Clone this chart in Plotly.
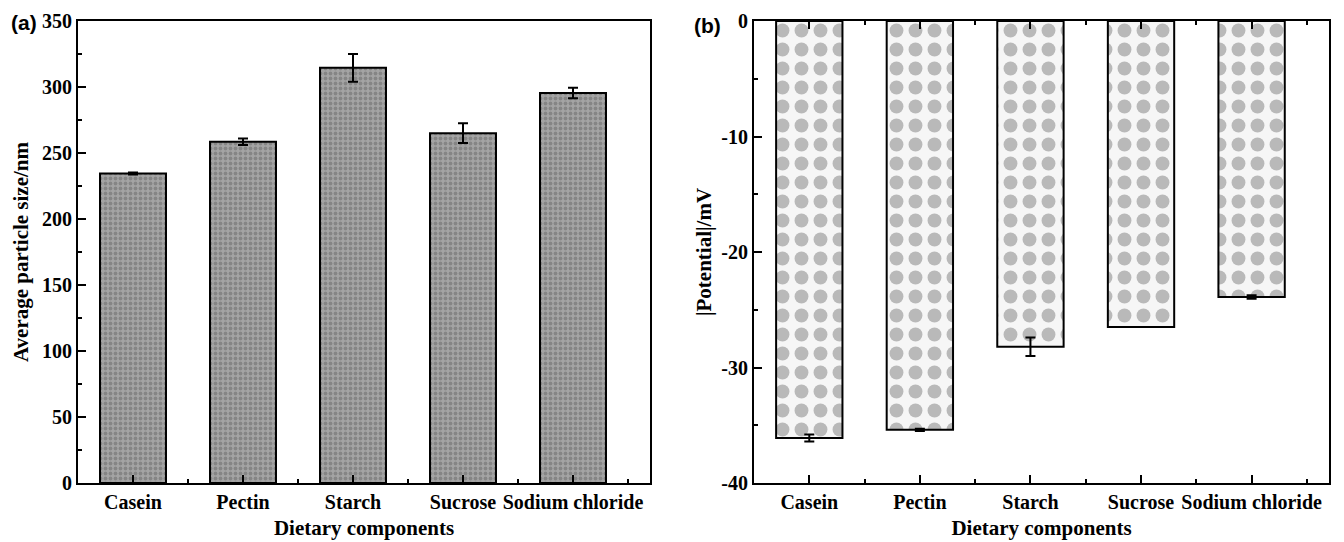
import plotly.graph_objects as go

categories = ["Casein", "Pectin", "Starch", "Sucrose", "Sodium chloride"]
particle_size = [234.5, 258.5, 314.5, 265.0, 295.5]
particle_size_err = [0.8, 2.5, 10.5, 7.5, 4.0]
potential = [-36.1, -35.4, -28.2, -26.5, -23.9]
potential_err = [0.3, 0.1, 0.8, 0.0, 0.15]
size_ticks = [0, 50, 100, 150, 200, 250, 300, 350]
potential_ticks = [-40, -30, -20, -10, 0]

W, H = 1344, 542
pos = list(range(len(categories)))
minor_pos = [p + 0.5 for p in pos]

TICKFONT = dict(family="Liberation Serif", size=20, color="black", weight="bold")
TITLEFONT = dict(family="Liberation Serif", size=21, color="black", weight="bold")

fig = go.Figure()

fig.add_trace(go.Bar(
    x=pos, y=particle_size, width=0.6,
    marker=dict(color="#8e8e8e", line=dict(color="black", width=2),
                pattern=dict(shape=".", size=5, solidity=0.45,
                             fgcolor="#666666", bgcolor="#a4a4a4")),
    error_y=dict(type="data", array=particle_size_err, color="black",
                 thickness=2, width=5),
    xaxis="x", yaxis="y", showlegend=False,
))

fig.add_trace(go.Bar(
    x=pos, y=potential, width=0.6,
    marker=dict(color="#d0d0d0", line=dict(color="black", width=2),
                pattern=dict(shape=".", size=19, solidity=0.42,
                             fgcolor="#7c7c7c", bgcolor="#f6f6f6")),
    error_y=dict(type="data", array=potential_err, color="black",
                 thickness=2, width=5),
    xaxis="x2", yaxis="y2", showlegend=False,
))

ydom = [1 - 483 / H, 1 - 21 / H]

def xaxis_cfg(domain, mirror):
    return dict(
        domain=domain, type="linear", range=[-0.5, 4.7],
        tickmode="array", tickvals=pos, ticktext=categories,
        ticks="inside", ticklen=8, tickwidth=2, tickcolor="black",
        showline=True, linewidth=2, linecolor="black", mirror=mirror,
        showgrid=False, zeroline=False, tickfont=TICKFONT,
        minor=dict(tickmode="array", tickvals=minor_pos, ticks="inside",
                   ticklen=4, tickwidth=2, tickcolor="black", showgrid=False),
        title=dict(text="Dietary components", font=TITLEFONT, standoff=8),
    )

xa = xaxis_cfg([78 / W, 650 / W], True)
xa["anchor"] = "y"
xb = xaxis_cfg([754 / W, 1329 / W], "ticks")
xb["anchor"] = "y2"

ya = dict(
    domain=ydom, anchor="x", range=[0, 350], tickmode="array",
    tickvals=size_ticks, ticktext=[str(v) for v in size_ticks],
    ticks="inside", ticklen=8, tickwidth=2, tickcolor="black",
    showline=True, linewidth=2, linecolor="black", mirror=True,
    showgrid=False, zeroline=False, tickfont=TICKFONT,
    minor=dict(dtick=25, tick0=0, ticks="inside", ticklen=4, tickwidth=2,
               tickcolor="black", showgrid=False),
    title=dict(text="Average particle size/nm", font=TITLEFONT, standoff=8),
)
yb = dict(
    domain=ydom, anchor="x2", range=[-40, 0], tickmode="array",
    tickvals=potential_ticks, ticktext=[str(v) for v in potential_ticks],
    ticks="inside", ticklen=8, tickwidth=2, tickcolor="black",
    showline=True, linewidth=2, linecolor="black", mirror=True,
    showgrid=False, zeroline=False, tickfont=TICKFONT,
    minor=dict(dtick=5, tick0=0, ticks="inside", ticklen=4, tickwidth=2,
               tickcolor="black", showgrid=False),
    title=dict(text="|Potential|/mV", font=TITLEFONT, standoff=4),
)

fig.update_layout(
    width=W, height=H,
    margin=dict(l=0, r=0, t=0, b=0, autoexpand=False),
    paper_bgcolor="white", plot_bgcolor="white",
    xaxis=xa, yaxis=ya, xaxis2=xb, yaxis2=yb,
    annotations=[
        dict(text="(a)", x=9 / W, y=1 - 23 / H, xref="paper", yref="paper",
             xanchor="left", yanchor="middle", showarrow=False,
             font=dict(family="Liberation Sans", size=21, color="black", weight="bold")),
        dict(text="(b)", x=692 / W, y=1 - 25 / H, xref="paper", yref="paper",
             xanchor="left", yanchor="middle", showarrow=False,
             font=dict(family="Liberation Sans", size=21, color="black", weight="bold")),
    ],
)

fig.write_html("out.html")
